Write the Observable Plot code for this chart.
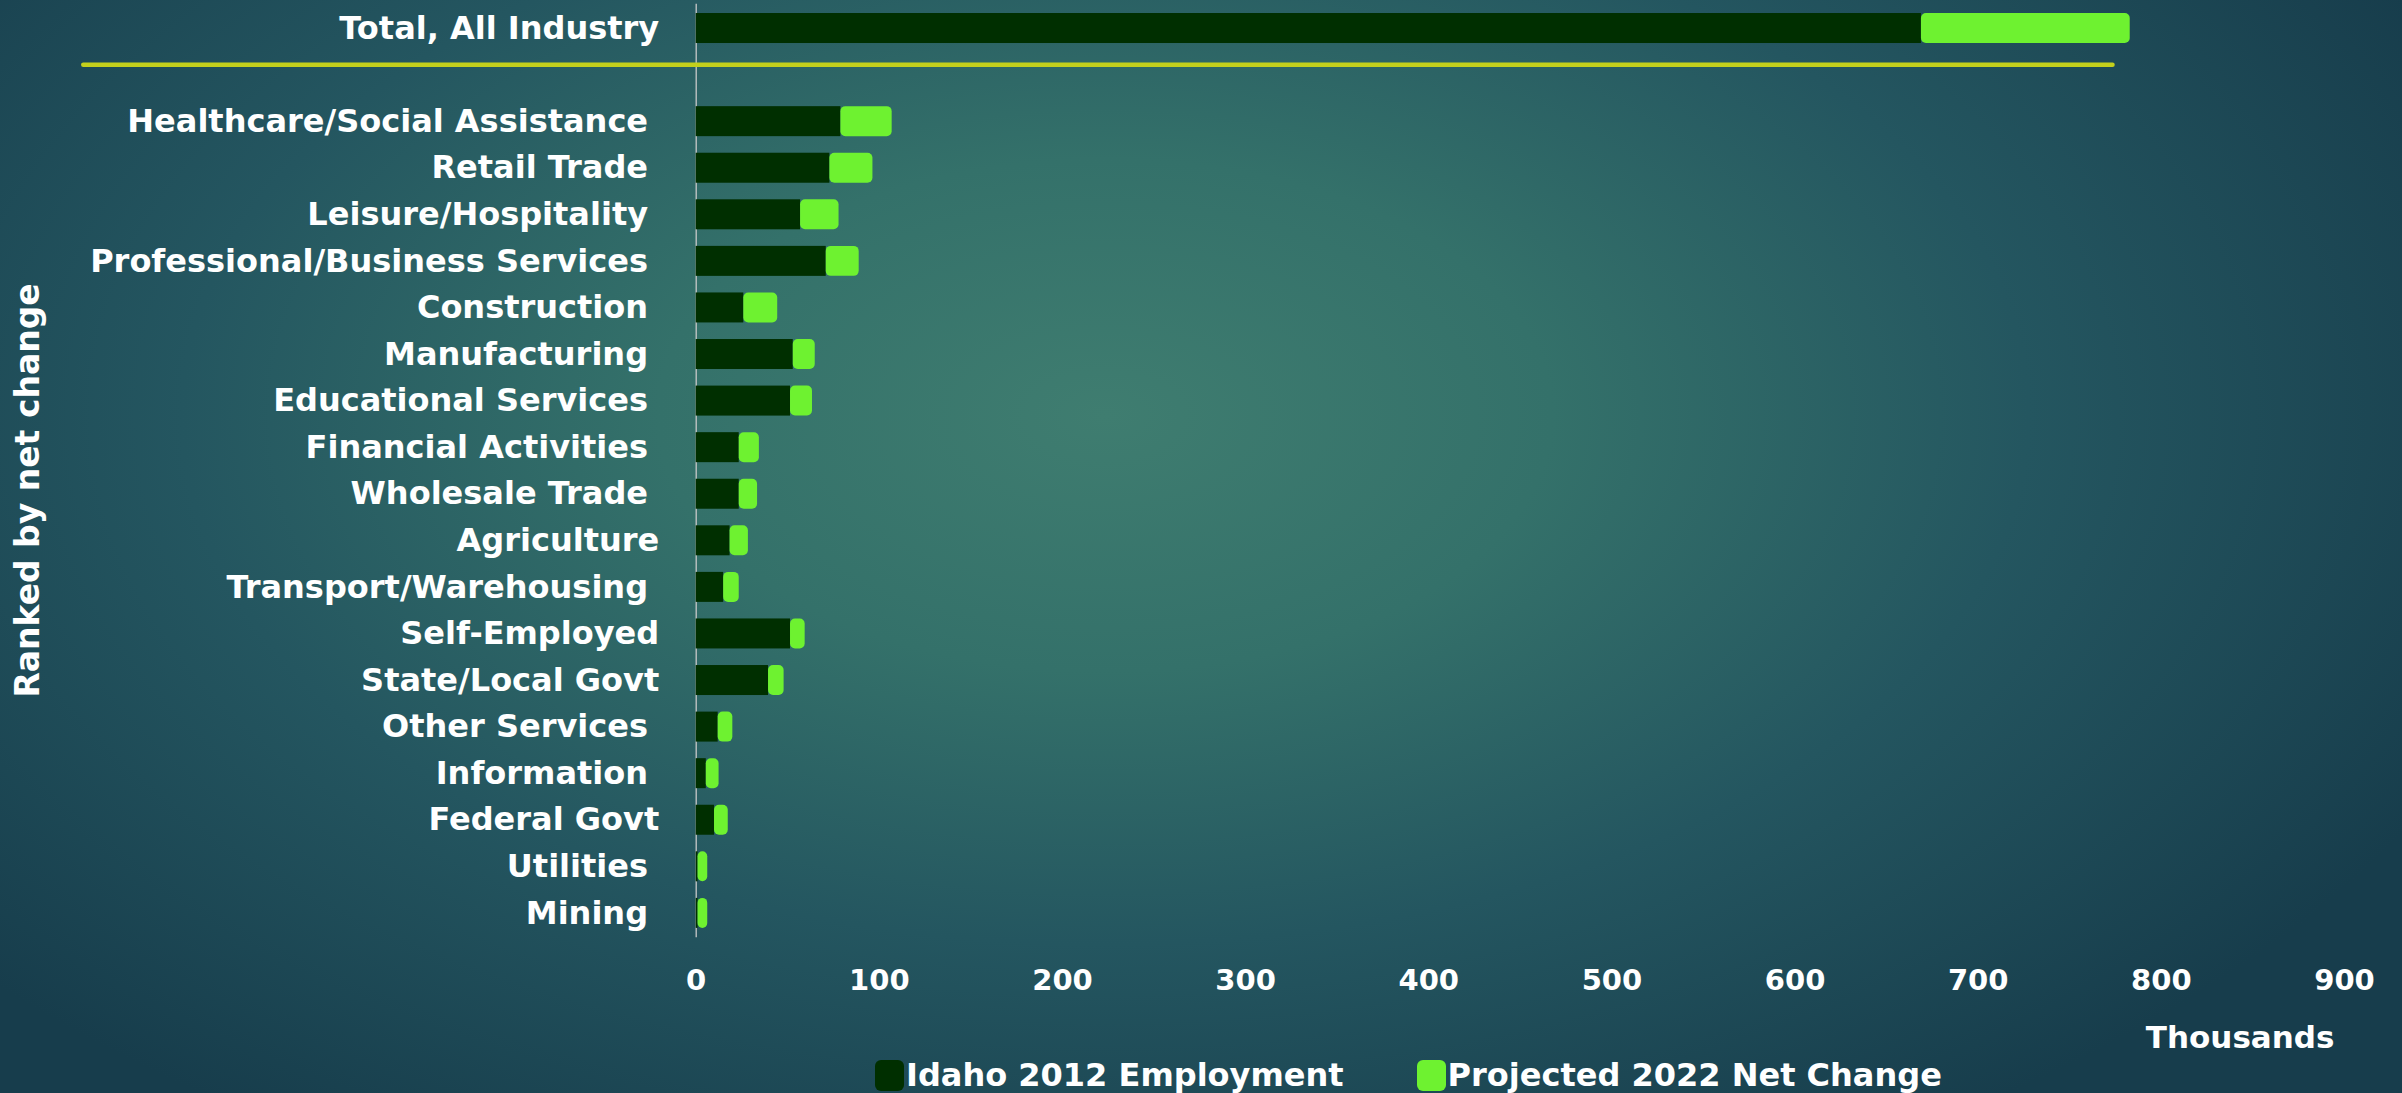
<!DOCTYPE html>
<html><head><meta charset="utf-8">
<script src="https://cdn.jsdelivr.net/npm/d3@7"></script>
<script src="https://cdn.jsdelivr.net/npm/@observablehq/plot@0.6"></script>
<style>
html,body{margin:0;padding:0;width:2402px;height:1093px;overflow:hidden;}
body{position:relative;background: radial-gradient(ellipse 62% 78% at 46% 38%, #3f7d70 0%, #34716a 30%, #245660 62%, #173d4c 100%); font-family:"DejaVu Sans",sans-serif; color:#fff;}
#chart svg{background:transparent; display:block;}
#chart svg text{white-space:pre;}
#legend{position:absolute; left:875px; top:1056px; display:flex; align-items:center; font-weight:bold; font-size:32px; font-family:"DejaVu Sans",sans-serif; color:#fff;}
#legend .item{display:flex;align-items:center;}
#legend .sw{width:29px;height:31px;border-radius:6px;margin-right:2px;}
</style></head><body>
<div id="chart"></div>
<div id="legend"></div>
<script>
// ---- data ----
const categories = [
  "Total, All Industry",
  "Healthcare/Social Assistance ",
  "Retail Trade ",
  "Leisure/Hospitality ",
  "Professional/Business Services ",
  "Construction ",
  "Manufacturing ",
  "Educational Services ",
  "Financial Activities ",
  "Wholesale Trade ",
  "Agriculture",
  "Transport/Warehousing ",
  "Self-Employed",
  "State/Local Govt",
  "Other Services ",
  "Information ",
  "Federal Govt",
  "Utilities ",
  "Mining "
];
const employment2012 = [669, 79, 73, 57, 71, 26, 53, 51.5, 23.5, 23.5, 18.5, 15, 51.5, 39.5, 12, 5.5, 10, 1, 1];
const netChange2022  = [114, 28, 23.5, 21, 18, 18.5, 12, 12, 11, 10, 10, 8.5, 8, 8.5, 8, 7, 7.5, 5.3, 5.3];
const seriesNames = ["Idaho 2012 Employment", "Projected 2022 Net Change"];
const seriesColors = ["#002f00", "#6ef230"];
const xTicks = [0, 100, 200, 300, 400, 500, 600, 700, 800, 900];
const xLabel = "Thousands";
const yTitle = "Ranked by net change";
const GAP = " ";
// separator between the total and the industries (x extent in data units)
const SEP_X1 = -334.4, SEP_X2 = 773.6;

const rows = categories.map((c, i) => ({category: c, employment: employment2012[i], change: netChange2022[i]}));
const yDomain = [categories[0], GAP, ...categories.slice(1)];

const chart = Plot.plot({
  width: 2402,
  height: 1050,
  marginLeft: 695.7,
  marginRight: 58,
  marginTop: 3.7,
  marginBottom: 112.8,
  style: {background: "transparent", color: "#fff", fontFamily: "DejaVu Sans", fontWeight: "bold", overflow: "visible"},
  x: {domain: [0, 900], label: null},
  y: {domain: yDomain, paddingInner: 0.356, paddingOuter: 0.2, round: false, label: null},
  marks: [
    Plot.ruleX([0], {stroke: "#c9c9c9", strokeWidth: 1.3}),
    Plot.barX(rows, {y: "category", x1: 0, x2: "employment", fill: seriesColors[0]}),
    Plot.barX(rows, {y: "category", x1: "employment", x2: d => d.employment + d.change, fill: seriesColors[1], rx: 5}),
    Plot.ruleY([GAP], {x1: SEP_X1, x2: SEP_X2, dy: -10.3, stroke: "#c4d01c", strokeWidth: 4.5, strokeLinecap: "round"}),
    Plot.axisX({ticks: xTicks, tickSize: 0, tickPadding: 32, fontSize: 29, fill: "#fff", label: null}),
    Plot.axisY({tickSize: 0, tickPadding: 37, fontSize: 32, fill: "#fff", label: null}),
    Plot.text([xLabel], {frameAnchor: "bottom-right", dx: -10, dy: 100, textAnchor: "end", lineAnchor: "middle", fontSize: 31, fill: "#fff"}),
    Plot.text([yTitle], {frameAnchor: "left", dx: -668, dy: 19.5, rotate: -90, textAnchor: "middle", lineAnchor: "middle", fontSize: 33, fill: "#fff"})
  ]
});
chart.setAttribute("xml:space", "preserve");
document.getElementById("chart").appendChild(chart);

// legend
const legend = d3.select("#legend");
seriesNames.forEach((name, i) => {
  const item = legend.append("div").attr("class", "item").style("margin-right", i === 0 ? "73px" : "0");
  item.append("div").attr("class", "sw").style("background", seriesColors[i]);
  item.append("span").text(name);
});
</script></body></html>
